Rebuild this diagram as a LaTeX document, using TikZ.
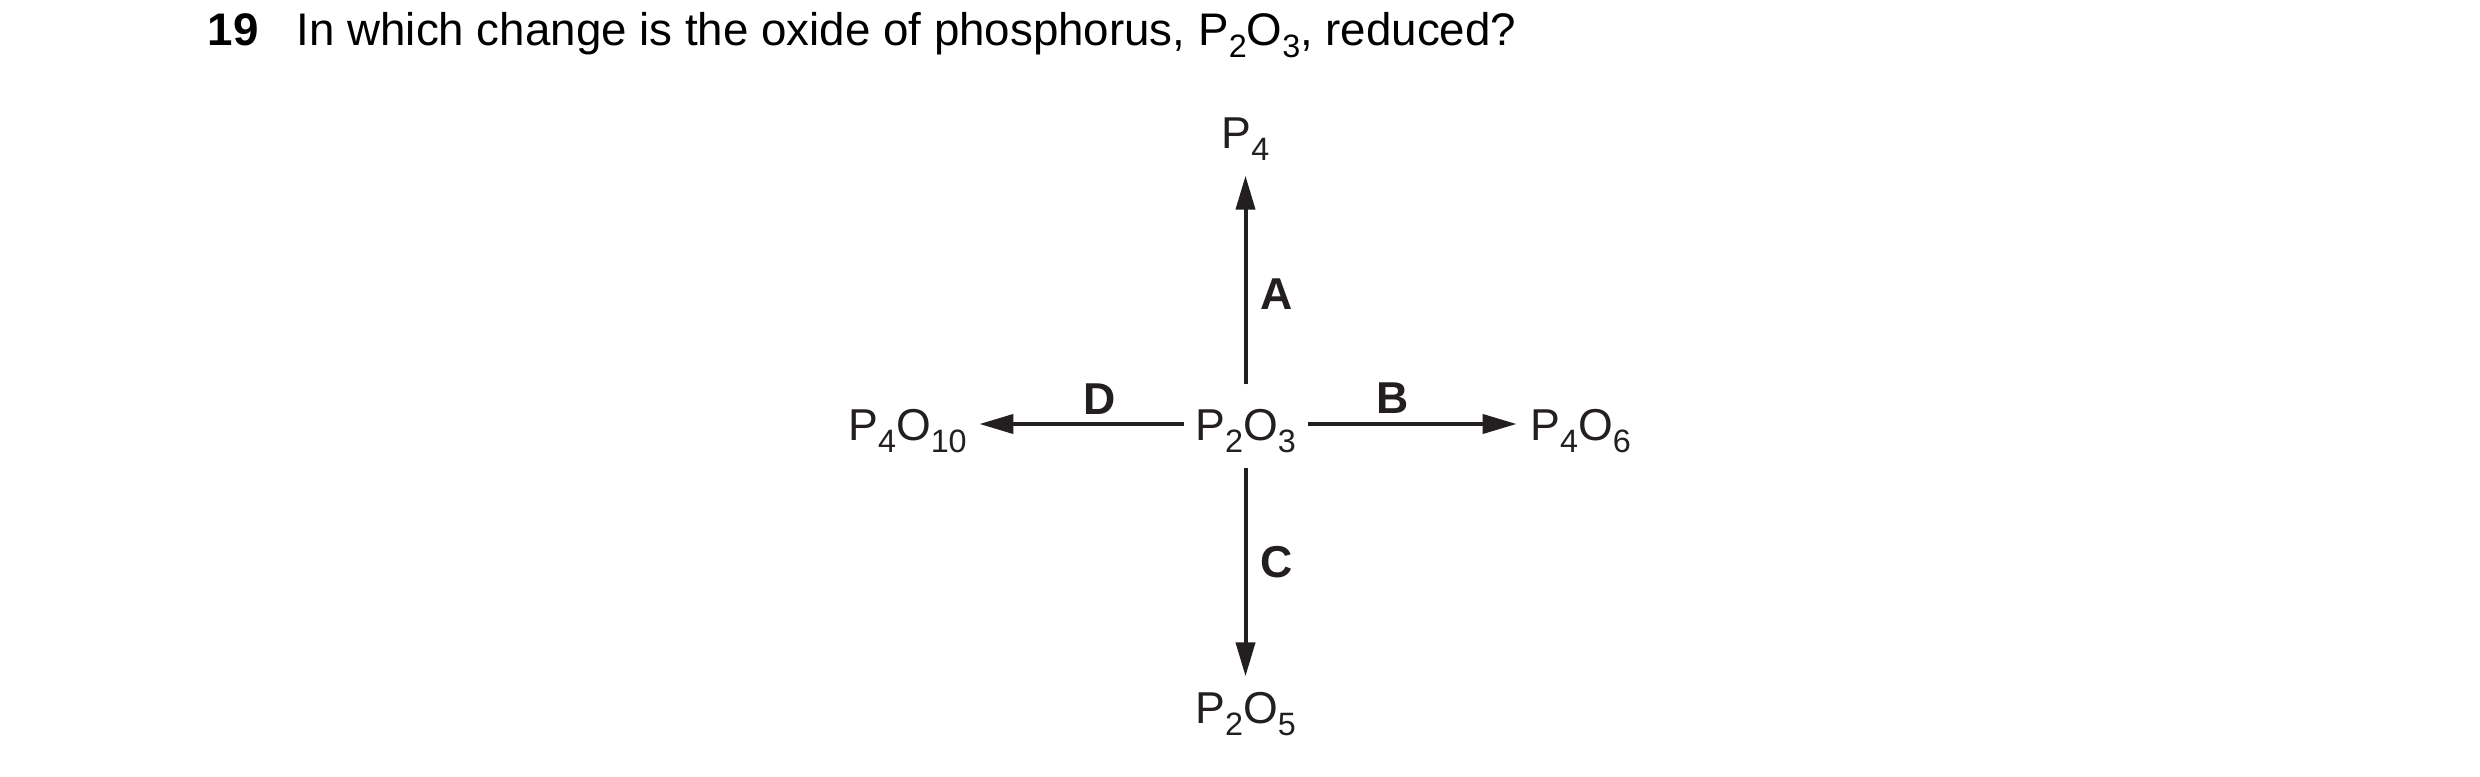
\documentclass[tikz,border=0pt]{standalone}
\usepackage{fontspec}
\setmainfont{Liberation Sans}
\usepackage{xcolor}
\usepackage{tikz}
\usetikzlibrary{arrows.meta}
\definecolor{ink}{HTML}{231F20}
\newcommand{\chemsub}[1]{\raisebox{-0.12cm}{\fontsize{9.2}{10}\selectfont #1}}
\tikzset{
  qnum/.style={text=black, inner sep=0pt, anchor=base west, font=\fontsize{13}{15}\selectfont\bfseries},
  qtext/.style={text=black, inner sep=0pt, anchor=base west, font=\fontsize{13}{15}\selectfont},
  chem/.style={text=ink, inner sep=0pt, anchor=base, text height=0.32cm, text depth=0cm, font=\fontsize{12.7}{14}\selectfont},
  tag/.style={text=ink, inner sep=0pt, font=\fontsize{12.7}{14}\selectfont\bfseries},
  arr/.style={draw=ink, line width=0.04cm, -{Triangle[length=0.34cm, width=0.19cm]}},
}
\begin{document}
\begin{tikzpicture}
  \useasboundingbox (0,0) rectangle (24.8,7.76);
  \fill[white] (0,0) rectangle (24.8,7.76);
  % question
  \node[qnum] (qnum) at (2.07,7.30) {19};
  \node[qtext] (qtext) at (2.96,7.30) {In which change is the oxide of phosphorus, P\chemsub{2}O\chemsub{3}, reduced?};
  % species
  \node[chem] (c) at (12.455,3.36) {P\chemsub{2}O\chemsub{3}};
  \node[chem] (p4) at (12.455,6.27) {P\chemsub{4}};
  \node[chem] (p4o10) at (9.075,3.36) {P\chemsub{4}O\chemsub{10}};
  \node[chem] (p4o6) at (15.805,3.36) {P\chemsub{4}O\chemsub{6}};
  \node[chem] (p2o5) at (12.455,0.53) {P\chemsub{2}O\chemsub{5}};
  % changes
  \draw[arr, shorten <=0.23cm, shorten >=0.26cm] (c.north) -- (p4.south);
  \draw[arr, shorten <=0.12cm, shorten >=0.13cm] (c.east) -- (p4o6.west);
  \draw[arr, shorten <=0.27cm, shorten >=0.14cm] (c.south) -- (p2o5.north);
  \draw[arr, shorten <=0.11cm, shorten >=0.12cm] (c.west) -- (p4o10.east);
  \node[tag] (la) at (12.77,4.82) {A};
  \node[tag] (lb) at (13.93,3.78) {B};
  \node[tag] (lc) at (12.77,2.14) {C};
  \node[tag] (ld) at (11.00,3.77) {D};
\end{tikzpicture}
\end{document}
